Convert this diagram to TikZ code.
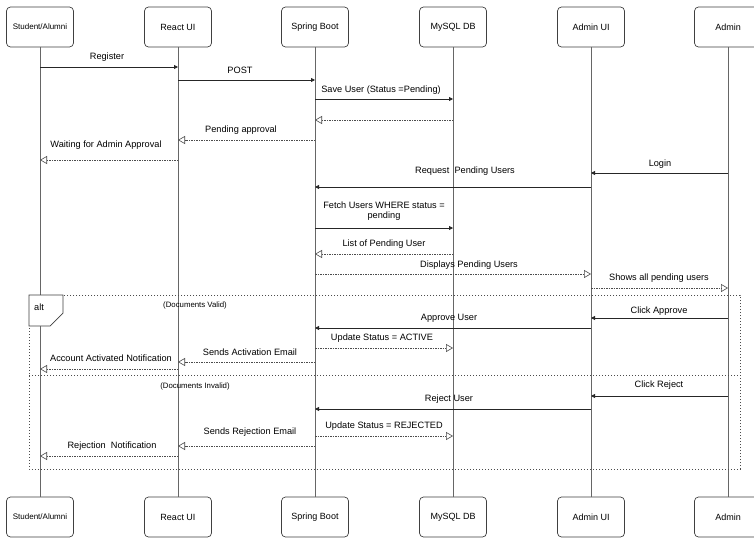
\documentclass[tikz,border=0pt]{standalone}
\usepackage{fontspec}
\setmainfont{Liberation Sans}
\usetikzlibrary{arrows.meta}
\begin{document}
\begin{tikzpicture}[x=1pt,y=-1pt,
  actor/.style={draw=black!75, rounded corners=4pt, minimum width=67pt, minimum height=40pt, line width=0.7pt, font=\fontsize{9}{10}\selectfont, fill=white},
  life/.style={draw=black!60, line width=0.8pt},
  sync/.style={draw=black!85, line width=0.8pt, -{Triangle[length=4pt,width=4pt]}},
  reply/.style={draw=black!70, line width=0.6pt, dash pattern=on 1.5pt off 1pt, -{Triangle[open,length=7pt,width=8pt,line width=0.6pt]}},
  lbl/.style={font=\fontsize{9.2}{10}\selectfont, inner sep=0pt, text=black},
  cond/.style={font=\fontsize{7.8}{8}\selectfont, inner sep=0pt, text=black},
  frame/.style={draw=black!70, line width=1pt, dash pattern=on 0.8pt off 2.2pt},
]
\useasboundingbox (0,0) rectangle (754,538);
\fill[white] (0,0) rectangle (754,538);
\clip (0,0) rectangle (754,538);

% participants
\node[actor] (tS) at (40,27) {\fontsize{8}{9}\selectfont Student/Alumni};
\node[actor] (tR) at (178,27) {React UI};
\node[actor] (tB) at (315,27) {Spring Boot};
\node[actor] (tD) at (453,27) {MySQL DB};
\node[actor] (tA) at (591,27) {Admin UI};
\node[actor] (tM) at (728,27) {Admin};
\node[actor] (bS) at (40,517) {\fontsize{8}{9}\selectfont Student/Alumni};
\node[actor] (bR) at (178,517) {React UI};
\node[actor] (bB) at (315,517) {Spring Boot};
\node[actor] (bD) at (453,517) {MySQL DB};
\node[actor] (bA) at (591,517) {Admin UI};
\node[actor] (bM) at (728,517) {Admin};

\foreach \p in {S,R,B,D,A,M}{\draw[life] (t\p.south) -- (b\p.north);}

% alt frame
\draw[frame] (29,295) rectangle (740,469);
\draw[frame] (29,375) -- (740,375);
\draw[draw=black!75, fill=white, line width=0.7pt] (29,295) -- (63,295) -- (63,313) -- (50,326) -- (29,326) -- cycle;
\node[lbl, anchor=west] (alt) at (34,307) {alt};
\node[cond] (cv) at (195,305) {(Documents Valid)};
\node[cond] (ci) at (195,386) {(Documents Invalid)};

% messages
\draw[sync] (tS |- 0,67) -- (tR |- 0,67);
\node[lbl] (l1) at (107,57) {Register};
\draw[sync] (tR |- 0,80) -- (tB |- 0,80);
\node[lbl] (l2) at (240,70) {POST};
\draw[sync] (tB |- 0,99) -- (tD |- 0,99);
\node[lbl] (l3) at (381,90) {Save User (Status =Pending)};
\draw[reply] (tD |- 0,120) -- (tB |- 0,120);
\draw[reply] (tB |- 0,140) -- (tR |- 0,140);
\node[lbl] (l4) at (241,130) {Pending approval};
\draw[reply] (tR |- 0,160) -- (tS |- 0,160);
\node[lbl] (l5) at (106,145) {Waiting for Admin Approval};

\draw[sync] (tM |- 0,173) -- (tA |- 0,173);
\node[lbl] (l6) at (660,164) {Login};
\draw[sync] (tA |- 0,187) -- (tB |- 0,187);
\node[lbl] (l7) at (465,171) {Request~ Pending Users};
\draw[sync] (tB |- 0,228) -- (tD |- 0,228);
\node[lbl, align=center] (l8) at (384,211) {Fetch Users WHERE status =\\pending};
\draw[reply] (tD |- 0,254) -- (tB |- 0,254);
\node[lbl] (l9) at (384,244) {List of Pending User};
\draw[reply] (tB |- 0,274) -- (tA |- 0,274);
\node[lbl] (l10) at (469,265) {Displays Pending Users};
\draw[reply] (tA |- 0,288) -- (tM |- 0,288);
\node[lbl] (l11) at (659,278) {Shows all pending users};

\draw[sync] (tM |- 0,318) -- (tA |- 0,318);
\node[lbl] (l12) at (659,311) {Click Approve};
\draw[sync] (tA |- 0,328) -- (tB |- 0,328);
\node[lbl] (l13) at (449,318) {Approve User};
\draw[reply] (tB |- 0,348) -- (tD |- 0,348);
\node[lbl] (l14) at (382,338) {Update Status = ACTIVE};
\draw[reply] (tB |- 0,362) -- (tR |- 0,362);
\node[lbl] (l15) at (250,352) {Sends Activation Email};
\draw[reply] (tR |- 0,369) -- (tS |- 0,369);
\node[lbl] (l16) at (111,358) {Account Activated Notification};

\draw[sync] (tM |- 0,396) -- (tA |- 0,396);
\node[lbl] (l17) at (659,385) {Click Reject};
\draw[sync] (tA |- 0,409) -- (tB |- 0,409);
\node[lbl] (l18) at (449,399) {Reject User};
\draw[reply] (tB |- 0,436) -- (tD |- 0,436);
\node[lbl] (l19) at (384,426) {Update Status = REJECTED};
\draw[reply] (tB |- 0,446) -- (tR |- 0,446);
\node[lbl] (l20) at (250,432) {Sends Rejection Email};
\draw[reply] (tR |- 0,456) -- (tS |- 0,456);
\node[lbl] (l21) at (112,446) {Rejection~ Notification};
\end{tikzpicture}
\end{document}
